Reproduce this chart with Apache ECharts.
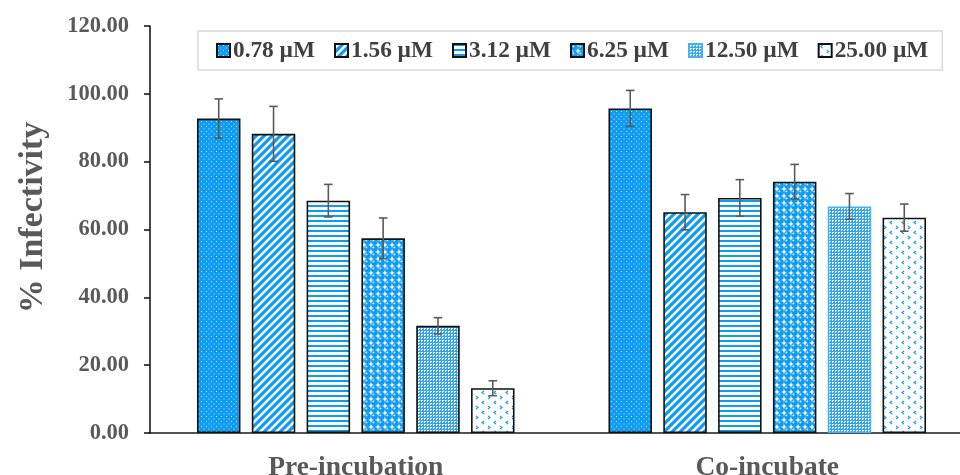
<!DOCTYPE html>
<html>
<head>
<meta charset="utf-8">
<script src="https://cdn.jsdelivr.net/npm/echarts@6/dist/echarts.min.js"></script>
<style>
  html, body { margin: 0; padding: 0; background: #fff; }
  #chart { width: 960px; height: 475px; }
</style>
</head>
<body>
<div id="chart"></div>
<script>
// ---------------- data ----------------
const categories = ['Pre-incubation', 'Co-incubate'];
const concentrations = ['0.78 µM', '1.56 µM', '3.12 µM', '6.25 µM', '12.50 µM', '25.00 µM'];
const preValues = [92.7, 88.2, 68.5, 57.4, 31.6, 13.2];
const preErrors = [5.8, 8.1, 4.8, 6.0, 2.4, 2.2];
const coValues  = [95.7, 65.1, 69.3, 74.1, 66.8, 63.5];
const coErrors  = [5.3, 5.2, 5.4, 5.1, 3.8, 4.0];
const yMin = 0, yMax = 120, yStep = 20;

// ---------------- styles ----------------
const BLUE = '#0E9BF2';
const FONT = "'Liberation Serif', 'Times New Roman', serif";
const BAR_W = 43.5;
const GAP_RATIO = 0.26;

function tile(w, h, draw) {
  const c = document.createElement('canvas');
  c.width = w; c.height = h;
  const ctx = c.getContext('2d');
  draw(ctx, w, h);
  return { image: c, repeat: 'repeat' };
}

const patterns = [
  // 0.78: blue with small white dots
  tile(5, 5, (ctx) => {
    ctx.fillStyle = BLUE; ctx.fillRect(0, 0, 5, 5);
    ctx.fillStyle = 'rgba(255,255,255,0.75)';
    ctx.fillRect(1, 1, 1, 1);
    ctx.fillRect(3.5, 3.5, 1, 1);
  }),
  // 1.56: wide upward diagonal
  tile(8, 8, (ctx) => {
    ctx.fillStyle = '#fff'; ctx.fillRect(0, 0, 8, 8);
    ctx.strokeStyle = BLUE; ctx.lineWidth = 3.2;
    ctx.beginPath();
    ctx.moveTo(-2, 10); ctx.lineTo(10, -2);
    ctx.moveTo(-2, 2); ctx.lineTo(2, -2);
    ctx.moveTo(6, 10); ctx.lineTo(10, 6);
    ctx.stroke();
  }),
  // 3.12: horizontal lines
  tile(4, 5, (ctx) => {
    ctx.fillStyle = '#fff'; ctx.fillRect(0, 0, 4, 5);
    ctx.fillStyle = BLUE; ctx.fillRect(0, 0, 4, 2);
  }),
  // 6.25: spheres
  tile(7, 7, (ctx) => {
    ctx.fillStyle = '#fff'; ctx.fillRect(0, 0, 7, 7);
    ctx.fillStyle = BLUE;
    ctx.beginPath(); ctx.arc(3.5, 3.5, 3.4, 0, Math.PI * 2); ctx.fill();
    ctx.fillStyle = '#fff';
    ctx.beginPath(); ctx.arc(2.4, 2.4, 0.9, 0, Math.PI * 2); ctx.fill();
  }),
  // 12.50: fine grid
  tile(3, 3, (ctx) => {
    ctx.fillStyle = '#fff'; ctx.fillRect(0, 0, 3, 3);
    ctx.fillStyle = '#2EA6F4';
    ctx.fillRect(0, 0, 3, 1);
    ctx.fillRect(0, 0, 1, 3);
    ctx.fillRect(2, 2, 1, 1);
  }),
  // 25.00: sparse divots
  tile(12, 10, (ctx) => {
    ctx.fillStyle = '#fff'; ctx.fillRect(0, 0, 12, 10);
    ctx.strokeStyle = BLUE; ctx.lineWidth = 1.1;
    ctx.beginPath();
    ctx.moveTo(4, 1); ctx.lineTo(2, 2.5); ctx.lineTo(4, 4);
    ctx.moveTo(8, 6); ctx.lineTo(10, 7.5); ctx.lineTo(8, 9);
    ctx.stroke();
  })
];

// per-series border (the 12.50 series uses a blue outline except its first bar)
const seriesBorders = ['#111', '#111', '#111', '#111', '#45B0F5', '#111'];

const barSeries = concentrations.map((name, i) => ({
  name: name,
  type: 'bar',
  barWidth: BAR_W,
  barGap: (GAP_RATIO * 100) + '%',
  itemStyle: { color: patterns[i], borderColor: seriesBorders[i], borderWidth: 1.6 },
  emphasis: { disabled: true },
  data: i === 4
    ? [{ value: preValues[i], itemStyle: { borderColor: '#111' } }, coValues[i]]
    : [preValues[i], coValues[i]],
  z: 2
}));

const errData = [];
concentrations.forEach((_, i) => {
  errData.push([0, preValues[i], preErrors[i], i]);
  errData.push([1, coValues[i], coErrors[i], i]);
});

const errorSeries = {
  type: 'custom',
  name: 'error',
  silent: true,
  z: 5,
  data: errData,
  encode: { x: 0, y: 1 },
  renderItem: function (params, api) {
    const cat = api.value(0), v = api.value(1), e = api.value(2), s = api.value(3);
    const pitch = BAR_W * (1 + GAP_RATIO);
    const off = (s - (concentrations.length - 1) / 2) * pitch;
    const top = api.coord([cat, v + e]);
    const bot = api.coord([cat, v - e]);
    const x = top[0] + off;
    const cap = 4.3;
    const style = { stroke: '#5a5a5a', lineWidth: 1.6 };
    return {
      type: 'group',
      children: [
        { type: 'line', shape: { x1: x, y1: top[1], x2: x, y2: bot[1] }, style: style },
        { type: 'line', shape: { x1: x - cap, y1: top[1], x2: x + cap, y2: top[1] }, style: style },
        { type: 'line', shape: { x1: x - cap, y1: bot[1], x2: x + cap, y2: bot[1] }, style: style }
      ]
    };
  }
};

const chart = echarts.init(document.getElementById('chart'), null, { renderer: 'canvas' });
chart.setOption({
  animation: false,
  backgroundColor: '#fff',
  grid: { left: 150, top: 26, width: 823, height: 407, containLabel: false, outerBoundsMode: 'none' },
  legend: {
    data: concentrations,
    left: 198,
    top: 31,
    width: 750,
    padding: [8, 14, 8, 18],
    itemGap: 19,
    itemWidth: 13,
    itemHeight: 13,
    icon: 'rect',
    borderColor: '#d9d9d9',
    borderWidth: 1.5,
    textStyle: { fontFamily: FONT, fontWeight: 'bold', fontSize: 23.3, color: '#404040', padding: [0, 0, 0, -2] }
  },
  xAxis: {
    type: 'category',
    data: categories,
    axisLine: { lineStyle: { color: '#1a1a1a', width: 1.6 } },
    axisTick: { show: false },
    axisLabel: { fontFamily: FONT, fontWeight: 'bold', fontSize: 27.5, color: '#595959', margin: 21 }
  },
  yAxis: {
    type: 'value',
    min: yMin, max: yMax, interval: yStep,
    name: '% Infectivity',
    nameLocation: 'middle',
    nameGap: 100,
    nameTextStyle: { fontFamily: FONT, fontWeight: 'bold', fontSize: 34, color: '#595959', padding: [0, 0, 0, 24] },
    splitLine: { show: false },
    axisLine: { show: true, lineStyle: { color: '#1a1a1a', width: 1.6 } },
    axisTick: { show: true, length: 6, lineStyle: { color: '#1a1a1a', width: 1.6 } },
    axisLabel: {
      fontFamily: FONT, fontWeight: 'bold', fontSize: 22.5, color: '#595959', margin: 21,
      formatter: (v) => v.toFixed(2)
    }
  },
  series: barSeries.concat([errorSeries])
});
</script>
</body>
</html>
